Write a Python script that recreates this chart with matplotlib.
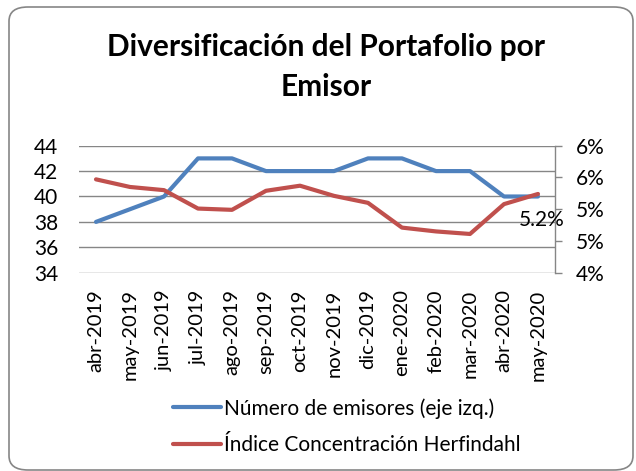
import matplotlib
matplotlib.use("Agg")
import matplotlib.pyplot as plt
from matplotlib.patches import FancyBboxPatch
from matplotlib.ticker import FuncFormatter

plt.rcParams['font.family'] = ['Lato', 'DejaVu Sans']

# --- data ---
meses = ["abr-2019", "may-2019", "jun-2019", "jul-2019", "ago-2019", "sep-2019",
         "oct-2019", "nov-2019", "dic-2019", "ene-2020", "feb-2020", "mar-2020",
         "abr-2020", "may-2020"]
num_emisores = [38, 39, 40, 43, 43, 42, 42, 42, 43, 43, 42, 42, 40, 40]
herfindahl = [5.47, 5.35, 5.30, 5.01, 4.99, 5.29, 5.37, 5.21, 5.10, 4.71, 4.65,
              4.61, 5.08, 5.24]  # en %

azul = "#4F81BD"
rojo = "#C0504D"
gris = "#868686"

fig = plt.figure(figsize=(6.36, 4.71), dpi=100)

# marco redondeado tipo Excel
marco = FancyBboxPatch((9 / 636, 1 - 470 / 471), 624 / 636, 463 / 471,
                       boxstyle="round,pad=0,rounding_size=0.03",
                       transform=fig.transFigure, facecolor="none",
                       edgecolor=gris, linewidth=1.2, zorder=-1)
fig.patches.append(marco)

ax = fig.add_axes([79 / 636, 1 - 272.7 / 471, 476 / 636, 127 / 471])
ax2 = ax.twinx()
ax.set_facecolor("none")

x = list(range(len(meses)))
l1, = ax.plot(x, num_emisores, color=azul, lw=3, solid_capstyle="round",
              label="Número de emisores (eje izq.)", zorder=3)
l2, = ax2.plot(x, herfindahl, color=rojo, lw=3, solid_capstyle="round",
               label="Índice Concentración Herfindahl", zorder=3)

ax.set_xlim(-0.5, len(meses) - 0.5)
ax.set_ylim(34, 44)
ax.set_yticks([34, 36, 38, 40, 42, 44])
ax2.set_ylim(4.0, 6.0)
ax2.set_yticks([4.0, 4.5, 5.0, 5.5, 6.0])
ax2.yaxis.set_major_formatter(FuncFormatter(lambda v, p: f"{round(v + 1e-9):.0f}%"))

ax.grid(axis="y", color=gris, lw=1)
ax.set_axisbelow(True)
ax.set_xticks(x)
ax.set_xticklabels(meses, rotation=90, fontsize=14.5)
ax.tick_params(axis="x", length=0, pad=12)
ax.tick_params(axis="y", length=0, pad=15, labelsize=15)
ax2.tick_params(axis="y", length=5, width=1, color=gris, pad=10, labelsize=15)

for a in (ax, ax2):
    for s in ("top", "left", "bottom"):
        a.spines[s].set_visible(False)
ax.spines["right"].set_visible(False)
ax2.spines["right"].set_color(gris)
ax2.spines["right"].set_linewidth(1)

# etiqueta del último dato
ax2.annotate(f"{herfindahl[-1]:.1f}%", (x[-1], herfindahl[-1]),
             xytext=(3, -19), textcoords="offset points",
             ha="center", va="center", fontsize=15)

fig.text(0.513, 1 - 67 / 471, "Diversificación del Portafolio por\nEmisor",
         ha="center", va="center", fontsize=21.5, fontweight="bold",
         linespacing=1.5)

fig.legend(handles=[l1, l2], loc="upper left",
           bbox_to_anchor=(173 / 636, 1 - 398 / 471), frameon=False,
           fontsize=15, handlelength=2.3, handletextpad=0.15,
           labelspacing=0.78, borderpad=0, borderaxespad=0)

fig.savefig("out.png", dpi=100)
